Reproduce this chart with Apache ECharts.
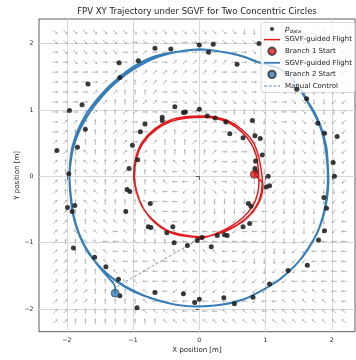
<!DOCTYPE html>
<html>
<head>
<meta charset="utf-8">
<script src="https://cdn.jsdelivr.net/npm/echarts@6/dist/echarts.min.js"></script>
<style>
html, body { margin: 0; padding: 0; background: #fff; }
#chart { width: 356px; height: 360px; }
</style>
</head>
<body>
<div id="chart"></div>
<script>
// axis ticks
const xTicks = [-2, -1, 0, 1, 2]
const yTicks = [-2, -1, 0, 1, 2]

// p_data samples
const pDataX = [-0.67, -0.43, 0.00, 0.21, 0.14, 0.90, 0.57, -1.21, -0.92, -1.20, -1.68, -1.77, -1.96, 1.47, 1.62,
  -0.37, -0.24, -0.21, -0.56, -0.56, -0.82, -0.89, 0.00, 0.12, 0.24, 0.40, 0.80, 0.46, 0.66, 0.84, 0.92, 0.95, 0.85, 0.84, 0.85, 1.04,
  -1.72, -1.84, -2.15, -1.01, -0.93, -1.06, -1.97, -1.99, -1.88, -1.92,
  -1.09, -1.05, -1.11, -0.74, -0.77, -0.73, -0.40, -0.49, 0.04, 0.27, 0.38, 0.42, 0.66, 0.76, 0.74, 0.78, 1.01, 1.06, -0.38, -0.18, -0.03, 0.18,
  1.79, 1.89, 2.08, 2.02, 2.04, 1.88, 1.92, 1.89, 1.80,
  -1.90, -1.58, -1.41, -1.22, -1.20, -0.94, -0.67, -0.24, -0.07, 0.00, 0.37, 0.53, 0.81, 1.06, 1.34, 1.63]
const pDataY = [1.93, 1.92, 1.98, 1.99, 1.87, 2.00, 1.69, 1.71, 1.74, 1.49, 1.39, 1.08, 0.99, 1.31, 1.17,
  1.05, 0.96, 0.97, 0.89, 0.84, 0.79, 0.67, 1.01, 0.91, 0.88, 0.82, 0.84, 0.64, 0.58, 0.61, 0.57, 0.32, 0.23, 0.12, 0.07, 0.00,
  0.71, 0.44, 0.39, 0.47, 0.25, 0.12, 0.04, -0.47, -0.44, -0.53,
  -0.20, -0.23, -0.53, -0.41, -0.76, -0.77, -0.76, -0.85, -0.92, -0.89, -0.88, -0.89, -0.76, -0.71, -0.41, -0.45, -0.16, -0.14, -1.00, -1.04, -0.96, -1.06,
  0.80, 0.65, 0.60, 0.21, 0.00, -0.32, -0.48, -0.82, -0.96,
  -1.08, -1.22, -1.36, -1.55, -1.80, -1.98, -1.75, -1.77, -1.90, -1.85, -1.83, -1.92, -1.82, -1.62, -1.42, -1.34]

// branch 1 flight (inner circle)
const branch1X = [0.83, 0.90, 0.96, 0.94, 0.87, 0.73, 0.53, 0.28, 0.01, -0.25, -0.49, -0.70, -0.86, -0.95, -0.99, -0.96, -0.86, -0.67, -0.43, -0.19,
  0.05, 0.26, 0.47, 0.66, 0.81, 0.89, 0.93, 0.95, 0.94, 0.89, 0.77, 0.57, 0.31, 0.03, -0.23, -0.47, -0.68, -0.84, -0.94, -0.98,
  -0.95, -0.85, -0.66, -0.42, -0.18, 0.05, 0.25, 0.46, 0.64, 0.78, 0.86, 0.89, 0.90, 0.88, 0.81, 0.66, 0.45, 0.21, -0.03]
const branch1Y = [0.03, -0.04, -0.12, -0.29, -0.45, -0.62, -0.76, -0.87, -0.91, -0.88, -0.81, -0.66, -0.46, -0.23, 0.02, 0.28, 0.52, 0.72, 0.85, 0.90,
  0.91, 0.89, 0.82, 0.69, 0.52, 0.32, 0.12, -0.06, -0.22, -0.39, -0.57, -0.73, -0.85, -0.92, -0.90, -0.83, -0.69, -0.49, -0.25, 0.00,
  0.26, 0.50, 0.70, 0.83, 0.88, 0.89, 0.87, 0.80, 0.67, 0.50, 0.31, 0.11, -0.08, -0.26, -0.44, -0.62, -0.77, -0.88, -0.95]

// branch 2 flight (outer circle)
const branch2X = [-1.27, -1.27, -1.29, -1.35, -1.44, -1.54, -1.63, -1.72, -1.79, -1.85, -1.90, -1.93, -1.95, -1.96, -1.95, -1.92, -1.86, -1.78, -1.68, -1.56,
  -1.42, -1.27, -1.11, -0.93, -0.72, -0.49, -0.25, 0.00, 0.25, 0.48, 0.70, 0.88, 1.05, 1.22, 1.37, 1.50, 1.62, 1.74, 1.84, 1.90,
  1.93, 1.94, 1.92, 1.88, 1.79, 1.64, 1.46, 1.22, 0.96, 0.70, 0.45, 0.20, -0.05, -0.30, -0.55, -0.80, -1.02, -1.21, -1.38,
  -1.53, -1.65, -1.75, -1.82, -1.88, -1.92, -1.95, -1.96, -1.95, -1.91, -1.85, -1.76, -1.65, -1.52, -1.38, -1.23, -1.06, -0.88, -0.67, -0.45,
  -0.21, 0.02, 0.26, 0.49, 0.71, 0.89, 1.06, 1.24, 1.40, 1.53, 1.65, 1.77, 1.86, 1.92, 1.94, 1.95, 1.93, 1.88, 1.78, 1.62,
  1.44, 1.20, 0.94, 0.68, 0.43, 0.18, -0.07, -0.32, -0.57, -0.82, -1.04, -1.23, -1.40,
  -1.55, -1.67, -1.76, -1.83, -1.89, -1.93, -1.95, -1.96, -1.94, -1.90, -1.83, -1.74, -1.63, -1.50, -1.35, -1.19, -1.02, -0.84, -0.63, -0.41, -0.18]
const branch2Y = [-1.76, -1.69, -1.62, -1.55, -1.45, -1.33, -1.20, -1.06, -0.92, -0.76, -0.57, -0.37, -0.17, 0.03, 0.23, 0.43, 0.63, 0.81, 0.98, 1.14,
  1.30, 1.44, 1.57, 1.69, 1.79, 1.85, 1.89, 1.91, 1.89, 1.85, 1.79, 1.72, 1.68, 1.62, 1.51, 1.34, 1.14, 0.93, 0.70, 0.45,
  0.20, -0.05, -0.30, -0.54, -0.82, -1.10, -1.33, -1.55, -1.71, -1.84, -1.91, -1.95, -1.96, -1.94, -1.89, -1.81, -1.72, -1.61, -1.48,
  -1.33, -1.18, -1.02, -0.86, -0.68, -0.47, -0.25, -0.03, 0.19, 0.41, 0.60, 0.79, 0.97, 1.14, 1.30, 1.44, 1.57, 1.68, 1.78, 1.85,
  1.89, 1.91, 1.89, 1.85, 1.79, 1.72, 1.67, 1.61, 1.48, 1.31, 1.11, 0.90, 0.67, 0.43, 0.18, -0.07, -0.32, -0.57, -0.85, -1.12,
  -1.35, -1.56, -1.72, -1.85, -1.92, -1.95, -1.96, -1.94, -1.88, -1.80, -1.70, -1.59, -1.46,
  -1.31, -1.16, -1.00, -0.84, -0.65, -0.44, -0.22, 0.00, 0.22, 0.44, 0.64, 0.82, 1.00, 1.17, 1.33, 1.47, 1.60, 1.71, 1.80, 1.86, 1.90]

// manual control leg between the branches
const manualX = [-0.03, -1.24]
const manualY = [-0.96, -1.66]

const branch1Start = [0.83, 0.03]
const branch2Start = [-1.27, -1.76]

// background vector field: grid and direction codes (0..7 in 45 deg steps, 0 = +x, 2 = +y)
const fieldX = [-2.17, -2.02, -1.87, -1.72, -1.57, -1.42, -1.27, -1.12, -0.97, -0.82, -0.67, -0.52, -0.37, -0.22, -0.07,
  0.08, 0.23, 0.38, 0.53, 0.68, 0.83, 0.98, 1.13, 1.28, 1.43, 1.58, 1.73, 1.88, 2.03, 2.18]
const fieldY = [2.17, 2.02, 1.87, 1.72, 1.57, 1.42, 1.27, 1.12, 0.97, 0.82, 0.67, 0.52, 0.37, 0.22, 0.07,
  -0.08, -0.23, -0.38, -0.53, -0.68, -0.83, -0.98, -1.13, -1.28, -1.43, -1.58, -1.73, -1.88, -2.03, -2.18]
const fieldRows = [
  '777777777777777777766666666655',
  '777777770777700007777666666555',
  '077777700100000000007666665555',
  '007770001100111111007766665555',
  '000000111111111110000777665555',
  '000001112111000000000077766555',
  '000011122210077770070007776555',
  '000011221110077777777700776655',
  '000112211000000000666770077665',
  '011122210001100007766670777755',
  '012222110011211110776677776655',
  '112222210112221100077666776655',
  '112322212122222210007666677655',
  '122332112232332110076655677665',
  '122332112233433100776655677665',
  '122332112233445770776655677665',
  '122332112234455677676655677665',
  '112332222344456666665656667655',
  '112233222334445566655456666655',
  '112233332233455556554455666654',
  '113333432223344445544456665554',
  '122334433222444444444556655444',
  '112233443333333334455566554444',
  '111233344434433334456665554444',
  '111223334444444444555655544444',
  '111122333444455555555555444444',
  '111122223344555555445544433344',
  '111122222344444444445443333334',
  '111222222333344443333433333333',
  '112222222223333333333333333333'
]

const font = 'DejaVu Sans'
const zip = (xs, ys) => xs.map((x, i) => [x, ys[i]])

let fieldData = []
for (let j = 0; j < fieldY.length; j++) {
  for (let i = 0; i < fieldX.length; i++) {
    fieldData.push([fieldX[i], fieldY[j], Number(fieldRows[j][i])])
  }
}

function renderArrow(params, api) {
  let p = api.coord([api.value(0), api.value(1)])
  let a = api.value(2) * Math.PI / 4
  let ux = Math.cos(a), uy = -Math.sin(a)
  let L = 5.8, h = 2.2, w = 1.25
  let tx = p[0] - ux * L / 2, ty = p[1] - uy * L / 2
  let hx = p[0] + ux * L / 2, hy = p[1] + uy * L / 2
  let bx = hx - ux * h, by = hy - uy * h
  return {
    type: 'group',
    children: [
      { type: 'line', shape: { x1: tx, y1: ty, x2: bx, y2: by }, style: { stroke: '#ababab', lineWidth: 0.85 } },
      { type: 'polygon', shape: { points: [[hx, hy], [bx - uy * w, by + ux * w], [bx + uy * w, by - ux * w]] }, style: { fill: '#ababab' } }
    ]
  }
}

const minus = v => (v < 0 ? '\u2212' + Math.abs(v) : String(v))

const legendNames = {
  'p_data': '{pi|p}{ps|data}',
  'SGVF-guided Flight': 'SGVF-guided Flight',
  'Branch 1 Start': 'Branch 1 Start',
  'SGVF-guided Flight 2': 'SGVF-guided Flight',
  'Branch 2 Start': 'Branch 2 Start',
  'Manual Control': 'Manual Control'
}
// legend glyphs drawn in a 16x10 box
const dotIcon = 'path://M0,0M16,10M6,5a2,2 0 1,0 4,0a2,2 0 1,0 -4,0z'
const startIcon = 'path://M0,0M16,10M4.3,5a3.7,3.7 0 1,0 7.4,0a3.7,3.7 0 1,0 -7.4,0z'
const redLineIcon = 'path://M0,0M16,10M0,4.25h16v1.5H0z'
const blueLineIcon = 'path://M0,0M16,10M0,4.1h16v1.8H0z'
const dashIcon = 'path://M0,0M16,10M0,4.55h3.2v0.9H0zM4.6,4.55h3.2v0.9h-3.2zM9.2,4.55h3.2v0.9h-3.2zM13.8,4.55h2.2v0.9h-2.2z'

let myChart = echarts.init(document.getElementById('chart'), null, { renderer: 'canvas' })
let option = {
  animation: false,
  backgroundColor: '#fff',
  textStyle: { fontFamily: font },
  title: {
    text: 'FPV XY Trajectory under SGVF for Two Concentric Circles',
    left: 197, top: 7, padding: 0, textAlign: 'center',
    textStyle: { fontFamily: font, fontSize: 8.5, fontWeight: 'normal', color: '#222' }
  },
  grid: {
    left: 39, right: 1, top: 19, bottom: 28.3,
    containLabel: false, outerBoundsMode: 'none',
    show: true, borderColor: '#333', borderWidth: 0.8, backgroundColor: 'transparent'
  },
  legend: {
    orient: 'vertical', left: 261, top: 22.5,
    padding: [1.5, 3, 1.5, 2],
    itemWidth: 16, itemHeight: 10, itemGap: 0.6,
    backgroundColor: 'rgba(255,255,255,0.8)', borderColor: '#d0d0d0', borderWidth: 0.8, borderRadius: 2,
    textStyle: {
      fontFamily: font, fontSize: 7, color: '#222', lineHeight: 10,
      rich: {
        pi: { fontFamily: font, fontSize: 7.5, fontStyle: 'italic', color: '#222', lineHeight: 10 },
        ps: { fontFamily: font, fontSize: 5, fontStyle: 'italic', color: '#222', lineHeight: 10, verticalAlign: 'bottom', padding: [3, 0, 0, 0] }
      }
    },
    formatter: name => legendNames[name],
    data: [
      { name: 'p_data', icon: dotIcon, itemStyle: { borderWidth: 0 } },
      { name: 'SGVF-guided Flight', icon: redLineIcon, itemStyle: { borderWidth: 0 } },
      { name: 'Branch 1 Start', icon: startIcon },
      { name: 'SGVF-guided Flight 2', icon: blueLineIcon, itemStyle: { borderWidth: 0 } },
      { name: 'Branch 2 Start', icon: startIcon },
      { name: 'Manual Control', icon: dashIcon, itemStyle: { borderWidth: 0 } }
    ]
  },
  xAxis: {
    type: 'value', min: -2.42, max: 2.35,
    name: 'X position [m]', nameLocation: 'middle', nameGap: 15, nameMoveOverlap: false,
    nameTextStyle: { fontFamily: font, fontSize: 7, color: '#222' },
    axisLine: { show: false },
    axisTick: { show: true, length: 3.5, customValues: xTicks, lineStyle: { color: '#333', width: 0.8 } },
    axisLabel: { customValues: xTicks, fontFamily: font, fontSize: 6.2, color: '#222', margin: 5.5, formatter: minus },
    splitLine: { show: true, lineStyle: { color: '#d8d8d8', width: 1 } }
  },
  yAxis: {
    type: 'value', min: -2.34, max: 2.37,
    name: 'Y position [m]', nameLocation: 'middle', nameGap: 18, nameMoveOverlap: false,
    nameTextStyle: { fontFamily: font, fontSize: 7, color: '#222' },
    axisLine: { show: false },
    axisTick: { show: true, length: 3.5, customValues: yTicks, lineStyle: { color: '#333', width: 0.8 } },
    axisLabel: { customValues: yTicks, fontFamily: font, fontSize: 6.2, color: '#222', margin: 5.5, formatter: minus },
    splitLine: { show: true, lineStyle: { color: '#d8d8d8', width: 1 } }
  },
  series: [
    {
      name: 'field', type: 'custom', silent: true, z: 1,
      renderItem: renderArrow, data: fieldData
    },
    {
      name: 'SGVF-guided Flight 2', type: 'line', z: 3, symbol: 'none', showSymbol: false, smooth: 0.3,
      lineStyle: { color: '#377eb8', width: 1.9 }, itemStyle: { color: '#377eb8' },
      data: zip(branch2X, branch2Y)
    },
    {
      name: 'SGVF-guided Flight', type: 'line', z: 3, symbol: 'none', showSymbol: false, smooth: 0.3,
      lineStyle: { color: '#e41a1c', width: 1.5 }, itemStyle: { color: '#e41a1c' },
      data: zip(branch1X, branch1Y)
    },
    {
      name: 'Manual Control', type: 'line', z: 3, symbol: 'none', showSymbol: false,
      lineStyle: { color: '#7088a8', width: 0.9, type: [3, 2] }, itemStyle: { color: '#7088a8' },
      data: zip(manualX, manualY)
    },
    {
      name: 'p_data', type: 'scatter', z: 4, symbolSize: 5,
      itemStyle: { color: '#1e1e1e', opacity: 0.88 },
      data: zip(pDataX, pDataY)
    },
    {
      name: 'Branch 1 Start', type: 'scatter', z: 5, symbolSize: 8,
      itemStyle: { color: '#e41a1c', borderColor: '#333', borderWidth: 0.8 },
      data: [branch1Start]
    },
    {
      name: 'Branch 2 Start', type: 'scatter', z: 5, symbolSize: 8,
      itemStyle: { color: '#377eb8', borderColor: '#333', borderWidth: 0.8 },
      data: [branch2Start]
    }
  ]
}
myChart.setOption(option)
</script>
</body>
</html>
